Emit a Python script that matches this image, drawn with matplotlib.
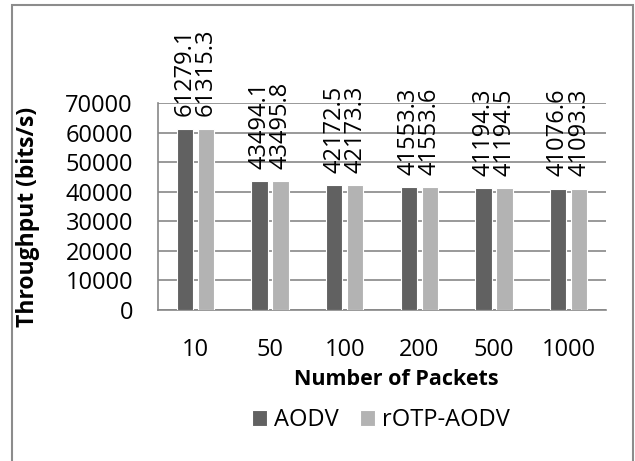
import numpy as np
import matplotlib.pyplot as plt
from matplotlib.patches import Rectangle

plt.rcParams['font.family'] = ['Open Sans', 'DejaVu Sans']

packets = ['10', '50', '100', '200', '500', '1000']
aodv = [61279.1, 43494.1, 42172.5, 41553.3, 41194.3, 41076.6]
rotp_aodv = [61315.3, 43495.8, 42173.3, 41553.6, 41194.5, 41093.3]

fig = plt.figure(figsize=(6.35, 4.61), dpi=100)
ax = fig.add_axes([0.2488, 0.3275, 0.7055, 0.449])

x = np.arange(len(packets))
w = 0.22
b1 = ax.bar(x - 0.14, aodv, w, color='#616161', edgecolor='white', linewidth=0.8,
            label='AODV', zorder=3)
b2 = ax.bar(x + 0.14, rotp_aodv, w, color='#b3b3b3', edgecolor='white', linewidth=0.8,
            label='rOTP-AODV', zorder=3)

# подписи значений: две строки, повернутые на 90 градусов, над каждой парой
for i, (a, r) in enumerate(zip(aodv, rotp_aodv)):
    ax.annotate(f'{a:.1f}\n{r:.1f}', (x[i], max(a, r)),
                xytext=(0, 9), textcoords='offset points',
                rotation=90, ha='center', va='bottom', fontsize=17,
                linespacing=0.85, multialignment='left',
                annotation_clip=False)

ax.set_xlim(-0.5, len(packets) - 0.5)
ax.set_ylim(0, 70000)
ax.set_yticks(np.arange(0, 70001, 10000))
ax.set_xticks(x)
ax.set_xticklabels(packets)
ax.tick_params(axis='both', length=0, labelsize=17)
ax.tick_params(axis='x', pad=20)
ax.tick_params(axis='y', pad=18)
ax.grid(axis='y', color='#878787', linewidth=1.2, zorder=0)

for s in ('top', 'right'):
    ax.spines[s].set_visible(False)
for s in ('left', 'bottom'):
    ax.spines[s].set_color('#878787')
    ax.spines[s].set_linewidth(1.2)

ax.set_ylabel('Throughput (bits/s)', fontsize=16.5, fontweight='bold')
ax.yaxis.set_label_coords(-0.263, 0.45)
ax.set_xlabel('Number of Packets', fontsize=15.5, fontweight='bold')
ax.xaxis.set_label_coords(0.531, -0.285)

fig.legend(handles=[b1, b2], loc='center', bbox_to_anchor=(0.6, 0.088), ncol=2,
           frameon=False, fontsize=17, handlelength=0.65, handleheight=0.65,
           handletextpad=0.3, columnspacing=0.9)

# рамка вокруг всей диаграммы
fig.patches.append(Rectangle((12 / 635, -0.1), 621 / 635, 1.1 - 5 / 461,
                             transform=fig.transFigure, fill=False,
                             edgecolor='#8c8c8c', linewidth=1.5))

fig.savefig('out.png', dpi=100)
